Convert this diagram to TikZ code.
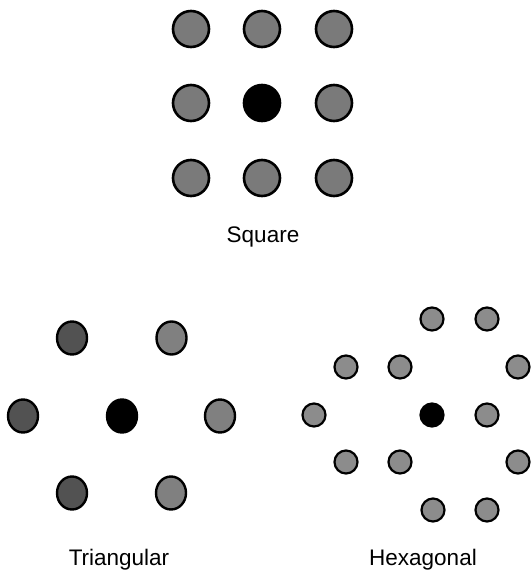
\documentclass[tikz,border=0pt]{standalone}
\usepackage{fontspec}
\setmainfont{Liberation Sans}
\usetikzlibrary{shapes.geometric}
\begin{document}
\begin{tikzpicture}[x=1pt,y=-1pt,
  sqdot/.style={circle,draw=black,line width=2.6pt,fill=black!52,minimum size=36pt,inner sep=0pt},
  sqblack/.style={sqdot,fill=black},
  trdot/.style={ellipse,draw=black,line width=2.4pt,fill=black!50,minimum width=30pt,minimum height=33pt,inner sep=0pt},
  trdark/.style={trdot,fill=black!68},
  trblack/.style={trdot,fill=black},
  hxdot/.style={circle,draw=black,line width=2.2pt,fill=black!45,minimum size=23pt,inner sep=0pt},
  hxblack/.style={hxdot,fill=black},
  lbl/.style={anchor=base,inner sep=0pt,font=\fontsize{22.5}{27}\selectfont}]
\useasboundingbox (0,0) rectangle (531,576);
% Square lattice
\node[sqdot] (s11) at (191,29) {};
\node[sqdot] (s12) at (262,29) {};
\node[sqdot] (s13) at (334,29) {};
\node[sqdot] (s21) at (191,103) {};
\node[sqblack] (s22) at (262,103) {};
\node[sqdot] (s23) at (334,103) {};
\node[sqdot] (s31) at (191,178) {};
\node[sqdot] (s32) at (262,178) {};
\node[sqdot] (s33) at (334,178) {};
\node[lbl] (lsq) at (263,242) {Square};
% Triangular lattice
\node[trdark] (t1) at (72,338) {};
\node[trdot] (t2) at (171.5,338) {};
\node[trdark] (t3) at (23,416) {};
\node[trblack] (t4) at (122,416) {};
\node[trdot] (t5) at (220,416) {};
\node[trdark] (t6) at (72,493) {};
\node[trdot] (t7) at (171,493) {};
\node[lbl] (ltr) at (119,565) {Triangular};
% Hexagonal lattice
\node[hxdot] (h1) at (432,319) {};
\node[hxdot] (h2) at (487,319) {};
\node[hxdot] (h3) at (346,367) {};
\node[hxdot] (h4) at (400,367) {};
\node[hxdot] (h5) at (518,367) {};
\node[hxdot] (h6) at (314,415) {};
\node[hxblack] (h7) at (432,415) {};
\node[hxdot] (h8) at (487,415) {};
\node[hxdot] (h9) at (346,462) {};
\node[hxdot] (h10) at (400,462) {};
\node[hxdot] (h11) at (518,462) {};
\node[hxdot] (h12) at (433,510) {};
\node[hxdot] (h13) at (487,510) {};
\node[lbl] (lhx) at (423,565) {Hexagonal};
\end{tikzpicture}
\end{document}
